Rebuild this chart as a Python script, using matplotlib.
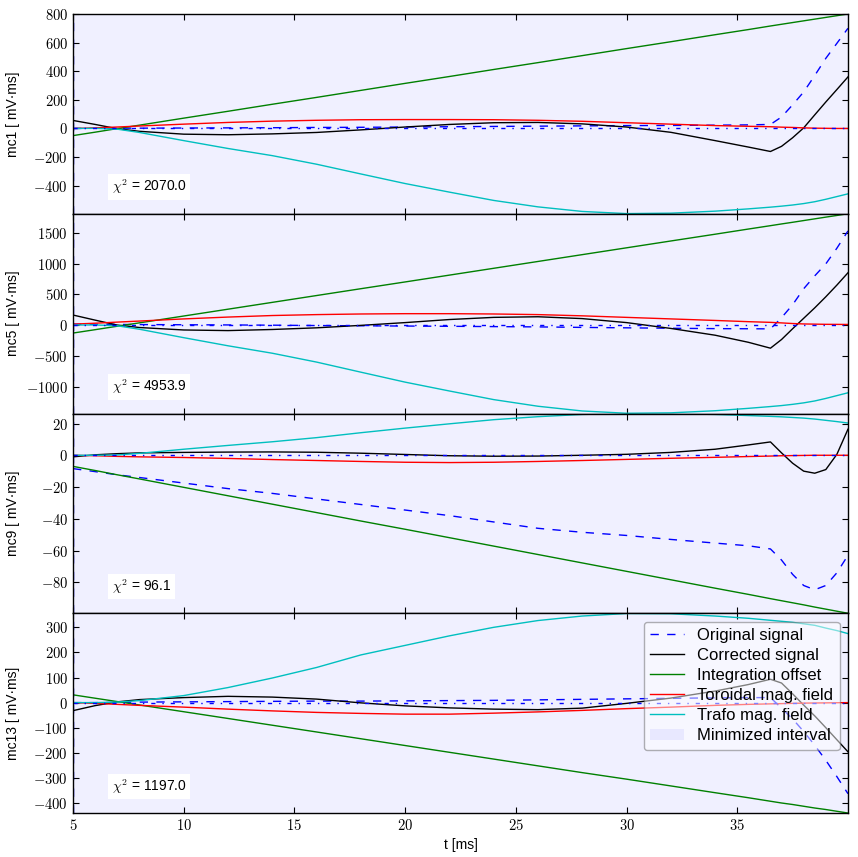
import matplotlib
matplotlib.use('Agg')
import matplotlib.pyplot as plt
from matplotlib.ticker import FuncFormatter, FixedLocator
from matplotlib.patches import Patch
from matplotlib.lines import Line2D

plt.rcParams['font.family'] = ['Liberation Sans', 'DejaVu Sans']
plt.rcParams['mathtext.fontset'] = 'cm'
plt.rcParams['xtick.direction'] = 'in'
plt.rcParams['ytick.direction'] = 'in'
plt.rcParams['xtick.top'] = True
plt.rcParams['ytick.right'] = True
plt.rcParams['xtick.major.size'] = 4
plt.rcParams['ytick.major.size'] = 4
plt.rcParams['lines.scale_dashes'] = False
plt.rcParams['lines.dashed_pattern'] = [6, 6]
plt.rcParams['lines.dashdot_pattern'] = [3, 5, 1, 5]

# ---------------- data ----------------
t = [5, 6, 7, 8, 10, 12, 14, 16, 18, 20, 22, 24, 26, 28, 30, 32, 34, 35.5,
     36.5, 37, 37.5, 38, 38.5, 39, 39.5, 40]

channels = ['mc1', 'mc5', 'mc9', 'mc13']
chi2 = [2070.0, 4953.9, 96.1, 1197.0]

mc1_orig = [0, 1, 2, 2, 3, 4, 5, 7, 8, 10, 12, 14, 16, 18, 20, 21, 23, 25,
            28, 80, 165, 255, 370, 490, 595, 700]
mc1_corr = [56, 28, -2, -20, -40, -44, -38, -28, -10, 10, 28, 40, 42, 32, 10, -27, -85, -130,
            -161, -125, -65, 4, 95, 185, 272, 360]
mc1_offs = [-50, -26, -1, 23, 72, 120, 169, 217, 266, 315, 363, 412, 460, 509, 558, 606, 655, 691,
            716, 728, 740, 752, 764, 776, 788, 800]
mc1_tor = [0, 4, 10, 17, 30, 42, 51, 57, 61, 62, 62, 61, 57, 50, 40, 30, 20, 15,
           12, 9, 7, 4, 2, 1, 0, 0]
mc1_trafo = [0, 1, -5, -28, -85, -140, -190, -250, -318, -385, -445, -503, -548, -580, -595, -592, -578, -562,
             -550, -543, -535, -525, -512, -495, -476, -457]

mc5_orig = [15, 12, 10, 8, 5, 2, -2, -8, -12, -16, -20, -25, -30, -38, -45, -52, -58, -60,
            -62, 120, 330, 590, 800, 995, 1250, 1530]
mc5_corr = [163, 80, 0, -40, -80, -90, -72, -45, -5, 40, 90, 125, 135, 105, 40, -55, -165, -280,
            -376, -235, -60, 110, 280, 460, 650, 850]
mc5_offs = [-130, -75, -19, 36, 147, 258, 369, 480, 591, 701, 812, 923, 1034, 1145, 1256, 1367, 1477, 1561,
            1616, 1644, 1671, 1699, 1727, 1755, 1782, 1810]
mc5_tor = [15, 30, 48, 65, 100, 130, 155, 170, 180, 185, 185, 180, 170, 150, 125, 100, 75, 55,
           44, 35, 25, 18, 15, 12, 11, 10]
mc5_trafo = [0, 2, -12, -68, -205, -337, -458, -602, -766, -928, -1072, -1212, -1320, -1397, -1434, -1427, -1393, -1354,
             -1325, -1309, -1289, -1265, -1234, -1193, -1147, -1101]

mc9_orig = [-8.4, -10.3, -12.3, -14, -17.5, -21, -24, -27.5, -31, -34.5, -38, -42, -46, -48.5, -50.5, -53, -55.3, -57,
            -59, -66, -75, -82, -84.7, -82, -74, -63]
mc9_corr = [-1, 0.3, 1, 1.5, 1.8, 2, 2.1, 1.9, 1.3, 0.5, -0.3, -0.6, -0.5, 0, 0.6, 1.8, 3.8, 6.5,
            8.4, 1.5, -5, -10, -11.3, -9, 0.6, 16.4]
mc9_offs = [-7, -9.6, -12.3, -14.9, -20.2, -25.5, -30.8, -36.1, -41.4, -46.6, -51.9, -57.2, -62.5, -67.8, -73.1, -78.4, -83.7, -87.6,
            -90.3, -91.6, -92.9, -94.2, -95.6, -96.9, -98.2, -99.5]
mc9_tor = [0, -0.3, -0.7, -1, -1.4, -2, -2.7, -3.3, -3.9, -4.4, -4.6, -4.4, -3.9, -3.3, -2.6, -1.9, -1.3, -0.8,
           -0.5, -0.3, -0.2, -0.1, 0, 0, 0, 0]
mc9_trafo = [0, 0, 0.2, 1.2, 3.8, 6.2, 8.5, 11.1, 14.2, 17.1, 19.8, 22.4, 24.3, 25.7, 26.3, 26.2, 25.7, 25.0,
             24.5, 24.2, 23.8, 23.4, 22.8, 22.0, 21.2, 20.3]

mc13_orig = [0, 0, 1, 2, 3, 4, 5, 6, 6, 7, 8, 9, 11, 13, 15, 17, 19, 20,
             20, -22, -65, -115, -170, -230, -295, -363]
mc13_corr = [-32, -12, 3, 12, 20, 25, 22, 14, -1, -13, -21, -26, -28, -22, -3, 18, 46, 72,
             93, 78, 35, -10, -53, -100, -148, -196]
mc13_offs = [31, 17.5, 4.1, -9.4, -36.3, -63.2, -90.1, -117, -144, -171, -198, -225, -252, -279, -305, -332, -359, -379,
             -393, -400, -406, -413, -420, -426, -433, -440]
mc13_tor = [0, -3, -7, -11, -18, -26, -33, -39, -43, -46, -46, -42, -37, -31, -24, -18, -11, -7,
            -5, -4, -3, -2, -1.5, -1, -0.5, 0]
mc13_trafo = [0, 0, 2, 8, 28, 60, 98, 140, 190, 228, 266, 300, 327, 345, 355, 354, 345, 336,
              328, 324, 320, 314, 308, 297, 287, 275]

ylims = [(-596, 800), (-1438, 1810), (-99.5, 26.3), (-440, 356)]
yticks = [[-400, -200, 0, 200, 400, 600, 800],
          [-1000, -500, 0, 500, 1000, 1500],
          [-80, -60, -40, -20, 0, 20],
          [-400, -300, -200, -100, 0, 100, 200, 300]]
xticks = [5, 10, 15, 20, 25, 30, 35]
interval = (5, 40)

series = [
    (mc1_orig, mc1_corr, mc1_offs, mc1_tor, mc1_trafo),
    (mc5_orig, mc5_corr, mc5_offs, mc5_tor, mc5_trafo),
    (mc9_orig, mc9_corr, mc9_offs, mc9_tor, mc9_trafo),
    (mc13_orig, mc13_corr, mc13_offs, mc13_tor, mc13_trafo),
]

# ---------------- figure ----------------
fig, axes = plt.subplots(4, 1, figsize=(8.58, 8.57), dpi=100, sharex=True)
fig.subplots_adjust(left=0.0851, right=0.9883, top=0.9837, bottom=0.0513, hspace=0)

fmt = FuncFormatter(lambda v, p: r'$%d$' % v)

for i, ax in enumerate(axes):
    orig, corr, offs, tor, trafo = series[i]
    ax.axvspan(interval[0], interval[1], color='b', alpha=0.06, lw=0)
    ax.axvline(interval[0], color='b', ls='--', lw=1)
    ax.plot(t, orig, 'b--', lw=1)
    ax.plot(t, corr, 'k-', lw=1)
    ax.plot(t, offs, 'g-', lw=1)
    ax.plot(t, tor, 'r-', lw=1)
    ax.plot(t, trafo, 'c-', lw=1)
    ax.axhline(0, color='b', ls='-.', lw=1)
    ax.set_xlim(5, 40)
    ax.set_ylim(*ylims[i])
    ax.yaxis.set_major_locator(FixedLocator(yticks[i]))
    ax.yaxis.set_major_formatter(fmt)
    ax.xaxis.set_major_locator(FixedLocator(xticks))
    ax.xaxis.set_major_formatter(fmt)
    ax.tick_params(labelsize=10.5, width=0.8, color='k')
    for sp in ax.spines.values():
        sp.set_linewidth(1.0)
    ax.set_ylabel('%s [ mV\u00b7ms]' % channels[i], fontsize=10)
    ax.text(0.05, 0.133, r'$\chi^2$ = %.1f' % chi2[i], transform=ax.transAxes,
            fontsize=10, va='center', ha='left',
            bbox=dict(facecolor='white', edgecolor='none', pad=2.5))

axes[-1].set_xlabel('t [ms]', fontsize=10)
for ax in axes:
    ax.yaxis.set_label_coords(-0.068, 0.5)

handles = [Line2D([], [], color='b', ls='--', lw=1),
           Line2D([], [], color='k', lw=1),
           Line2D([], [], color='g', lw=1),
           Line2D([], [], color='r', lw=1),
           Line2D([], [], color='c', lw=1),
           Patch(facecolor='b', alpha=0.06, edgecolor='none')]
labels = ['Original signal', 'Corrected signal', 'Integration offset',
          'Toroidal mag. field', 'Trafo mag. field', 'Minimized interval']
leg = axes[-1].legend(handles, labels, loc='upper right', fontsize=12,
                      fancybox=True, framealpha=0.5, edgecolor='0.4',
                      labelspacing=0.3, handlelength=2.0, borderpad=0.4)
leg.get_frame().set_linewidth(1.0)

fig.savefig('out.png', dpi=100, facecolor='white')
